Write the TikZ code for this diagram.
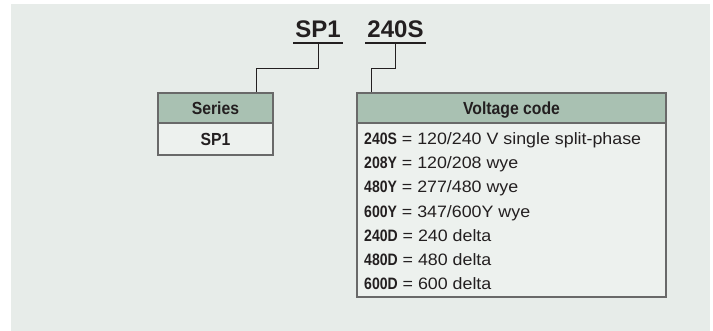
\documentclass[tikz,border=0pt]{standalone}
\usepackage{fontspec}
\setmainfont{Liberation Sans}
\newfontfamily\txtfont{Liberation Sans}[FakeStretch=1.08]
\newfontfamily\keyfont{Liberation Sans}[FakeStretch=0.85]
\newfontfamily\headfont{Liberation Sans}[FakeStretch=0.9]
\usetikzlibrary{calc}
\definecolor{bgpanel}{RGB}{231,236,233}
\definecolor{headfill}{RGB}{169,193,178}
\definecolor{bodyfill}{RGB}{237,241,238}
\definecolor{boxline}{RGB}{105,105,105}
\definecolor{ink}{RGB}{35,31,32}
\newcommand{\vkey}[1]{{\keyfont\bfseries #1}}
\tikzset{
  headbox/.style={draw=boxline,fill=headfill,line width=1.1pt,inner sep=0pt,text depth=0pt,font=\headfont\bfseries\fontsize{17.5}{17.5}\selectfont,text=ink},
  bodybox/.style={draw=boxline,fill=bodyfill,line width=1.1pt,inner sep=0pt},
  codeline/.style={anchor=base west,inner sep=0pt,text=ink,font=\txtfont\fontsize{16.5}{16.5}\selectfont},
  titletxt/.style={anchor=base,inner xsep=2pt,inner ysep=5.5pt,text depth=0pt,text=ink,font=\bfseries\fontsize{24}{24}\selectfont},
  link/.style={draw=ink,line width=0.8pt}
}

\begin{document}
\begin{tikzpicture}[x=1pt,y=-1pt]

\useasboundingbox (0,0) rectangle (713,331);
\fill[bgpanel] (11,4) rectangle (710,331);

%%% Part number
\node[titletxt] (tSP) at (318,37.7) {SP1};
\node[titletxt] (tCode) at (395.5,37.7) {240S};
\draw[ink,line width=2pt] (tSP.south west) -- (tSP.south east);
\draw[ink,line width=2pt] (tCode.south west) -- (tCode.south east);

%%% Series box
\node[bodybox,minimum width=115pt,minimum height=32pt] (seriesBody) at (215.5,139) {};
\node[headbox,minimum width=115pt,minimum height=30pt] (seriesHead) at (215.5,108) {Series};
\node[text=ink,inner sep=0pt,text depth=0pt,font=\headfont\bfseries\fontsize{17.5}{17.5}\selectfont] (seriesVal) at (seriesBody) {SP1};

%%% Voltage code box
\node[bodybox,minimum width=309pt,minimum height=174pt] (codeBody) at (511.5,210) {};
\node[headbox,minimum width=309pt,minimum height=30pt] (codeHead) at (511.5,108) {Voltage code};

\node[codeline] (v1) at (364,144.5) {\vkey{240S} = 120/240 V single split-phase};
\node[codeline] (v2) at (364,168.75) {\vkey{208Y} = 120/208 wye};
\node[codeline] (v3) at (364,193) {\vkey{480Y} = 277/480 wye};
\node[codeline] (v4) at (364,217.25) {\vkey{600Y} = 347/600Y wye};
\node[codeline] (v5) at (364,241.5) {\vkey{240D} = 240 delta};
\node[codeline] (v6) at (364,265.75) {\vkey{480D} = 480 delta};
\node[codeline] (v7) at (364,290) {\vkey{600D} = 600 delta};

%%% Leaders
\draw[link] (tSP.south) -- ++(0,25) -| ($(seriesHead.north west)!0.85!(seriesHead.north east)$);
\draw[link] (tCode.south) -- ++(0,25) -| ([xshift=15pt]codeHead.north west);

\end{tikzpicture}
\end{document}
